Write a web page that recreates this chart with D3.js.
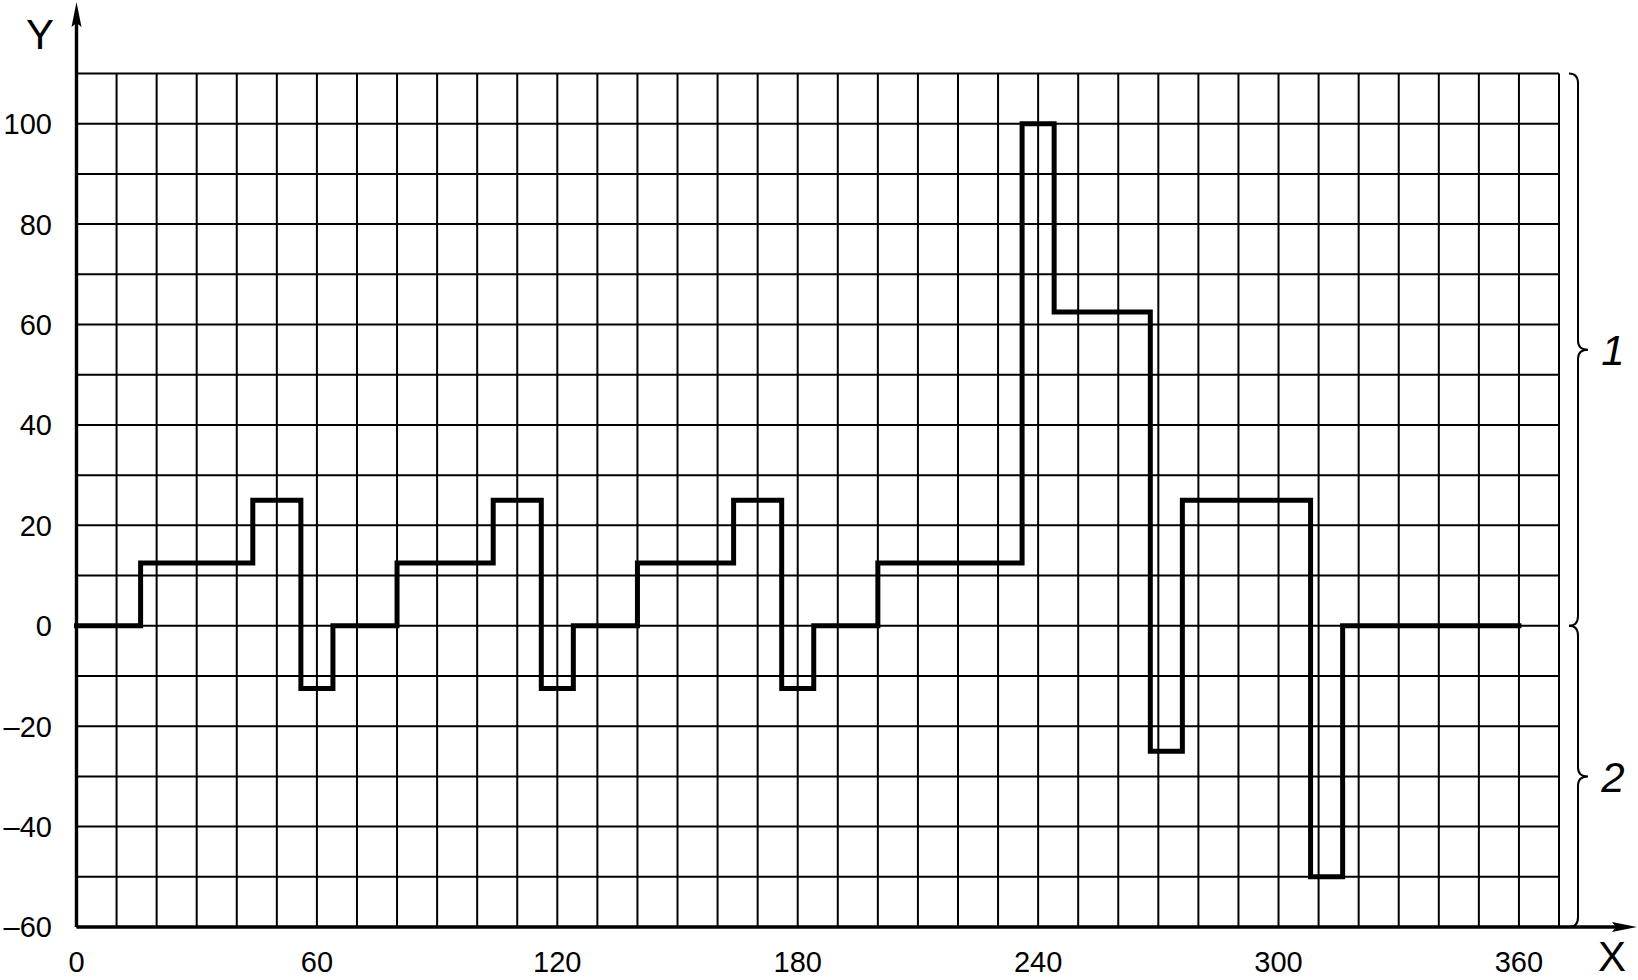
<!DOCTYPE html>
<html>
<head>
<meta charset="utf-8">
<script src="https://cdn.jsdelivr.net/npm/d3@7"></script>
<style>
  html, body { margin: 0; padding: 0; background: #fff; }
  svg { display: block; }
  text { font-family: "Liberation Sans", Arial, sans-serif; fill: #000; }
</style>
</head>
<body>
<svg id="chart" width="1638" height="980"></svg>
<script>
// ---- data ----
const stepX = [0, 16, 44, 56, 64, 80, 104, 116, 124, 140, 164, 176, 184, 200, 236, 244, 268, 276, 308, 316, 360];
const stepY = [0, 12.5, 25, -12.5, 0, 12.5, 25, -12.5, 0, 12.5, 25, -12.5, 0, 12.5, 100, 62.5, -25, 25, -50, 0, 0];
const xTickLabels = [0, 60, 120, 180, 240, 300, 360];
const yTickLabels = [-60, -40, -20, 0, 20, 40, 60, 80, 100];
const gridXValues = [0,10,20,30,40,50,60,70,80,90,100,110,120,130,140,150,160,170,180,190,200,210,220,230,240,250,260,270,280,290,300,310,320,330,340,350,360,370];
const gridYValues = [-60,-50,-40,-30,-20,-10,0,10,20,30,40,50,60,70,80,90,100,110];
const braces = [ {from: 0, to: 110, label: "1"}, {from: -60, to: 0, label: "2"} ];

// ---- layout ----
const svg = d3.select("#chart");
const x = d3.scaleLinear().domain([0, 370]).range([76.5, 1559]);
const y = d3.scaleLinear().domain([-60, 110]).range([927, 73.5]);

// grid
const grid = svg.append("g").attr("stroke", "#000").attr("stroke-width", 2);
grid.selectAll("line.v").data(gridXValues).join("line")
  .attr("class", "v")
  .attr("x1", d => x(d)).attr("x2", d => x(d))
  .attr("y1", y(-60)).attr("y2", y(110));
grid.selectAll("line.h").data(gridYValues).join("line")
  .attr("class", "h")
  .attr("x1", x(0)).attr("x2", x(370))
  .attr("y1", d => y(d)).attr("y2", d => y(d));

// axes
const axisG = svg.append("g");
axisG.append("line").attr("x1", x(0)).attr("x2", 1622).attr("y1", y(-60)).attr("y2", y(-60))
  .attr("stroke", "#000").attr("stroke-width", 3.4);
axisG.append("line").attr("x1", x(0)).attr("x2", x(0)).attr("y1", y(-60)).attr("y2", 18)
  .attr("stroke", "#000").attr("stroke-width", 3.4);
// arrowheads
axisG.append("path").attr("d", `M1637,${y(-60)} L1612,${y(-60)-5} L1616,${y(-60)} L1612,${y(-60)+5} Z`).attr("fill", "#000");
axisG.append("path").attr("d", `M${x(0)},2 L${x(0)-5},27 L${x(0)},23 L${x(0)+5},27 Z`).attr("fill", "#000");

// tick labels
svg.append("g").selectAll("text").data(yTickLabels).join("text")
  .attr("x", 52).attr("y", d => y(d)).attr("dy", "0.36em")
  .attr("text-anchor", "end").attr("font-size", 29)
  .text(d => d < 0 ? "–" + Math.abs(d) : String(d));
svg.append("g").selectAll("text").data(xTickLabels).join("text")
  .attr("x", d => x(d)).attr("y", 972)
  .attr("text-anchor", "middle").attr("font-size", 29)
  .text(d => String(d));

// axis titles
svg.append("text").attr("x", 40).attr("y", 49).attr("text-anchor", "middle").attr("font-size", 42).text("Y");
svg.append("text").attr("x", 1612).attr("y", 971).attr("text-anchor", "middle").attr("font-size", 42).text("X");

// step line
const pts = stepX.map((d, i) => [d, stepY[i]]);
const line = d3.line().x(d => x(d[0])).y(d => y(d[1])).curve(d3.curveStepAfter);
svg.append("path").datum(pts).attr("d", line)
  .attr("fill", "none").attr("stroke", "#000").attr("stroke-width", 5)
  .attr("stroke-linejoin", "miter").attr("stroke-linecap", "square");

// braces
const xs = 1578, xt = 1569, xp = 1588;
const bg = svg.append("g");
braces.forEach(b => {
  const y0 = y(b.to), y1 = y(b.from), ym = (y0 + y1) / 2;
  const p = `M${xt},${y0} Q${xs},${y0} ${xs},${y0 + 10} L${xs},${ym - 9} Q${xs},${ym} ${xp},${ym} ` +
            `Q${xs},${ym} ${xs},${ym + 9} L${xs},${y1 - 10} Q${xs},${y1} ${xt},${y1}`;
  bg.append("path").attr("d", p).attr("fill", "none").attr("stroke", "#000").attr("stroke-width", 2);
  bg.append("text").attr("x", 1613).attr("y", ym).attr("dy", "0.36em")
    .attr("text-anchor", "middle").attr("font-size", 42).attr("font-style", "italic")
    .text(b.label);
});
</script>
</body>
</html>
